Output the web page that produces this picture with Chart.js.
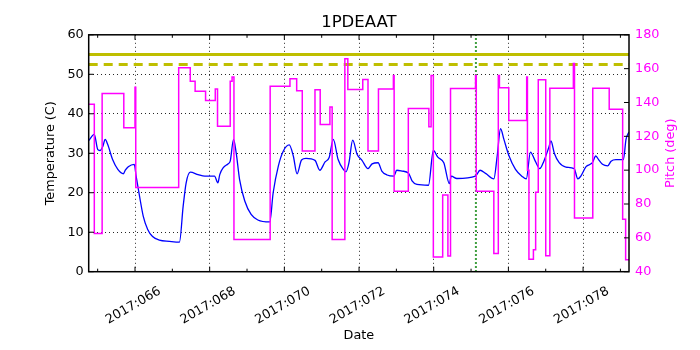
<!DOCTYPE html>
<html><head><meta charset="utf-8">
<script src="https://cdn.jsdelivr.net/npm/chart.js@4/dist/chart.umd.min.js"></script>
<style>html,body{margin:0;padding:0;background:#fff}canvas{display:block}</style>
</head><body>
<canvas id="c" width="700" height="350"></canvas>
<script>
const chartTitle = '1PDEAAT';
const xAxisTitle = 'Date';
const leftAxisTitle = 'Temperature (C)';
const rightAxisTitle = 'Pitch (deg)';

const tempDays = [64.76,64.91,65.00,65.06,65.14,65.20,65.27,65.40,65.54,65.69,65.74,65.82,65.98,66.03,66.12,66.22,66.34,66.47,66.65,66.92,67.19,67.29,67.37,67.48,67.69,67.87,68.13,68.22,68.27,68.36,68.49,68.55,68.64,68.71,68.80,68.94,69.11,69.29,69.61,69.70,69.84,69.97,70.13,70.24,70.34,70.46,70.58,70.82,70.95,71.09,71.20,71.31,71.44,71.58,71.65,71.73,71.83,71.95,72.08,72.24,72.35,72.51,72.61,72.75,72.93,73.01,73.15,73.33,73.42,73.55,73.86,73.99,74.11,74.27,74.42,74.47,74.62,75.12,75.24,75.39,75.61,75.70,75.79,75.88,76.01,76.19,76.37,76.48,76.59,76.72,76.84,76.95,77.08,77.14,77.23,77.36,77.54,77.76,77.86,77.94,78.08,78.25,78.34,78.42,78.52,78.66,78.75,78.88,79.08,79.15,79.23];
const tempValues = [33.2,34.8,31.0,30.7,31.8,33.5,32.2,28.4,25.9,24.8,25.7,26.6,27.2,24.2,19.2,14.1,10.7,8.9,8.0,7.7,7.5,16.6,22.5,25.2,24.6,24.2,24.2,22.5,24.6,26.3,27.3,28.0,33.5,30.1,23.4,17.9,14.5,13.1,12.6,20.0,26.8,30.5,32.1,29.3,24.8,28.3,28.7,28.2,25.7,27.8,28.9,33.5,28.4,25.9,25.3,27.6,33.3,29.7,28.2,26.1,27.3,27.6,25.5,24.5,24.2,25.7,25.5,24.9,23.0,22.1,21.9,30.7,29.0,27.6,22.3,24.2,23.6,24.2,25.7,24.9,23.5,29.3,36.2,33.5,29.5,25.9,24.1,23.5,30.3,28.0,26.1,28.0,31.4,33.1,30.0,27.6,26.5,26.1,23.5,24.2,26.6,27.6,29.3,28.3,27.2,26.8,28.0,28.4,28.4,33.5,35.4];

const pitchDays = [64.76,64.91,65.12,65.70,66.00,66.02,67.17,67.48,67.61,67.89,68.15,68.21,68.55,68.60,68.65,69.62,70.15,70.33,70.48,70.82,70.96,71.22,71.28,71.62,71.70,72.10,72.24,72.52,72.92,72.94,73.32,73.87,73.93,73.99,74.24,74.38,74.45,75.12,75.14,75.61,75.73,75.76,76.01,76.49,76.51,76.55,76.67,76.73,76.80,77.00,77.11,77.74,77.77,78.26,78.70,79.06,79.14,79.23];
const pitchValues = [139,62.6,145.3,125,149,89.8,160.5,152.6,146.7,141.2,148,126,152.6,155,59,149.6,154,147,111.3,147.5,127,137.4,59,165.8,147.7,153.6,111.3,148,156,87.6,136.5,125.6,156,48.7,85.3,49.3,148.3,156,87.6,50.8,156,148.7,129.4,155,100,47.3,53,87,153.4,49.4,148.4,163,71.8,148.4,136,71,47,47];

const limitSolid = 55;
const limitDashed = 52.5;
const markerDay = 75.13;
const xRange = [64.76, 79.23];
const xDayTicks = [65,66,67,68,69,70,71,72,73,74,75,76,77,78,79];
const xMajorDays = [66,68,70,72,74,76,78];
const xTickLabels = ['2017:066','2017:068','2017:070','2017:072','2017:074','2017:076','2017:078'];
const tempTicks = [0,10,20,30,40,50,60];
const pitchTicks = [40,60,80,100,120,140,160,180];

const FONT = "'DejaVu Sans', sans-serif";
const FS = 12.8;
Chart.defaults.font.family = FONT;
Chart.defaults.font.size = FS;
Chart.defaults.color = '#000';

const xy = (xs, ys) => xs.map((x, i) => ({x: x, y: ys[i]}));

const decor = {
  id: 'decor',
  afterDatasetsDraw(chart) {
    const ctx = chart.ctx;
    const {left, right, top, bottom} = chart.chartArea;
    const xs = chart.scales.x, ys = chart.scales.y, y2 = chart.scales.y2;
    ctx.save();
    ctx.strokeStyle = '#000';
    ctx.lineWidth = 1;
    ctx.setLineDash([]);
    ctx.beginPath();
    xDayTicks.forEach(d => {
      const px = xs.getPixelForValue(d);
      const len = xMajorDays.includes(d) ? 5 : 3;
      ctx.moveTo(px, bottom); ctx.lineTo(px, bottom - len);
      ctx.moveTo(px, top); ctx.lineTo(px, top + len);
    });
    tempTicks.forEach(v => { const py = ys.getPixelForValue(v); ctx.moveTo(left, py); ctx.lineTo(left + 5, py); });
    pitchTicks.forEach(v => { const py = y2.getPixelForValue(v); ctx.moveTo(right, py); ctx.lineTo(right - 5, py); });
    ctx.stroke();
    ctx.lineWidth = 1.5;
    ctx.strokeRect(left, top, right - left, bottom - top);
    ctx.restore();
  },
  afterDraw(chart) {
    const ctx = chart.ctx;
    const {top, bottom} = chart.chartArea;
    ctx.save();
    ctx.fillStyle = '#ff00ff';
    ctx.font = FS + 'px ' + FONT;
    ctx.textAlign = 'center';
    ctx.textBaseline = 'middle';
    ctx.translate(671, (top + bottom) / 2);
    ctx.rotate(-Math.PI / 2);
    ctx.fillText(rightAxisTitle, 0, 0);
    ctx.restore();
  }
};

const gridColor = 'rgba(0,0,0,0.85)';

new Chart(document.getElementById('c').getContext('2d'), {
  type: 'line',
  data: {
    datasets: [
      { label: 'Pitch', data: xy(pitchDays, pitchValues), yAxisID: 'y2', borderColor: '#ff00ff', borderWidth: 1.5, stepped: true, pointRadius: 0, fill: false },
      { label: 'Temperature', data: xy(tempDays, tempValues), yAxisID: 'y', borderColor: '#0000ff', borderWidth: 1.3, cubicInterpolationMode: 'monotone', pointRadius: 0, fill: false },
      { label: 'Limit', data: xy(xRange, [limitSolid, limitSolid]), yAxisID: 'y', borderColor: '#bfbf00', borderWidth: 3, pointRadius: 0 },
      { label: 'Limit2', data: xy(xRange, [limitDashed, limitDashed]), yAxisID: 'y', borderColor: '#bfbf00', borderWidth: 3, borderDash: [9, 6], pointRadius: 0 },
      { label: 'Marker', data: xy([markerDay, markerDay], [0, 60]), yAxisID: 'y', borderColor: '#008000', borderWidth: 2, borderDash: [1.5, 2.5], pointRadius: 0 }
    ]
  },
  options: {
    responsive: false,
    animation: false,
    events: [],
    layout: { padding: 0 },
    plugins: {
      legend: { display: false },
      tooltip: { enabled: false },
      title: { display: true, text: chartTitle, fullSize: false, color: '#000', font: { size: 16.5, weight: 'normal' }, padding: { top: 13, bottom: 2 } }
    },
    scales: {
      x: {
        type: 'linear', min: xRange[0], max: xRange[1],
        afterBuildTicks: s => { s.ticks = xDayTicks.map(v => ({ value: v })); },
        ticks: { autoSkip: false, minRotation: 30, maxRotation: 30, labelOffset: 25, padding: 12,
          callback: v => { const i = xMajorDays.indexOf(v); return i >= 0 ? xTickLabels[i] : ''; } },
        grid: { drawTicks: false, lineWidth: 1, color: c => (c.tick && xMajorDays.includes(c.tick.value)) ? gridColor : 'rgba(0,0,0,0)' },
        border: { display: false, dash: [1, 3] },
        title: { display: true, text: xAxisTitle, color: '#000', padding: { top: 0, bottom: 6.3 } },
        afterFit: s => { s.height = 78.3; }
      },
      y: {
        position: 'left', min: 0, max: 60,
        ticks: { stepSize: 10, padding: 5, color: '#000' },
        grid: { drawTicks: false, lineWidth: 1, color: c => (c.tick && c.tick.value > 0 && c.tick.value < 60) ? gridColor : 'rgba(0,0,0,0)' },
        border: { display: false, dash: [1, 3] },
        title: { display: true, text: leftAxisTitle, color: '#000', padding: { top: 43, bottom: 0 } },
        afterFit: s => { s.width = 88.7; }
      },
      y2: {
        position: 'right', min: 40, max: 180,
        ticks: { stepSize: 20, padding: 6, color: '#ff00ff' },
        grid: { drawOnChartArea: false, drawTicks: false },
        border: { display: false },
        afterFit: s => { s.width = 71; }
      }
    }
  },
  plugins: [decor]
});
</script>
</body></html>
